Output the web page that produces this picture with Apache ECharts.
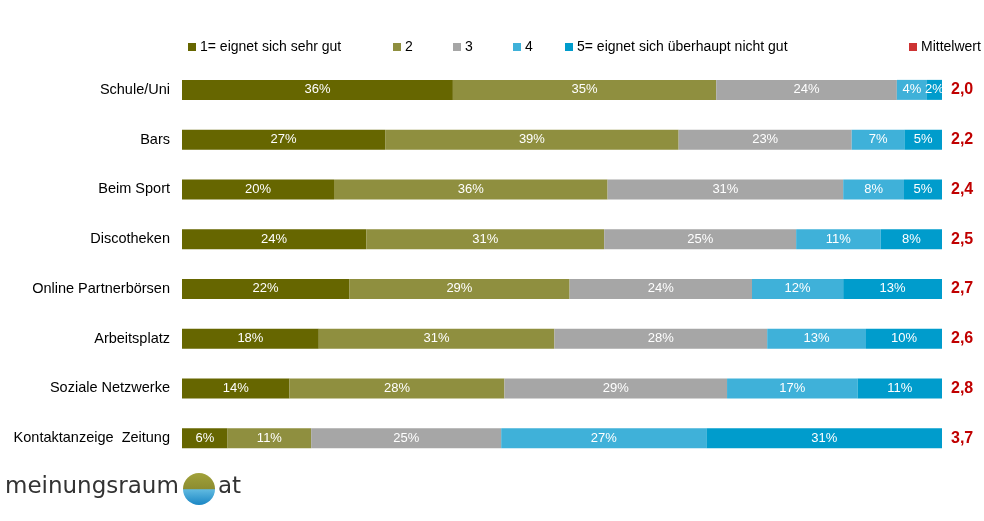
<!DOCTYPE html>
<html><head><meta charset="utf-8">
<script src="https://cdn.jsdelivr.net/npm/echarts@6/dist/echarts.min.js"></script>
<style>html,body{margin:0;padding:0;background:#fff}#c{width:984px;height:521px}</style>
</head><body><div id="c"></div>
<script>
const categories = ['Schule/Uni','Bars','Beim Sport','Discotheken','Online Partnerbörsen','Arbeitsplatz','Soziale Netzwerke','Kontaktanzeige  Zeitung'];
const s1 = [36,27,20,24,22,18,14,6];
const s2 = [35,39,36,31,29,31,28,11];
const s3 = [24,23,31,25,24,28,29,25];
const s4 = [4,7,8,11,12,13,17,27];
const s5 = [2,5,5,8,13,10,11,31];
const means = ['2,0','2,2','2,4','2,5','2,7','2,6','2,8','3,7'];
const seriesNames = ['1= eignet sich sehr gut','2','3','4','5= eignet sich überhaupt nicht gut'];
const colors = ['#666600','#8f8f3f','#a6a6a6','#3fb1d9','#009ccc'];

const all = [s1,s2,s3,s4,s5];
const totals = categories.map((c,i)=>all.reduce((a,s)=>a+s[i],0));
const font = 'Liberation Sans, Arial, sans-serif';

const series = all.map((s,k)=>({
  name: seriesNames[k], type:'bar', stack:'t', barWidth:20,
  itemStyle:{color:colors[k]},
  label:{show:true, position:'inside', color:'#fff', fontSize:13, fontFamily:font,
    formatter:p=>s[p.dataIndex]+'%'},
  data: s.map((v,i)=>v/totals[i]*100)
}));
series.push({name:'Mittelwert', type:'scatter', data:[], itemStyle:{color:'#c00000'}});

const legPos = [183,388,448,508,560,904];
const legNames = seriesNames.concat(['Mittelwert']);
const legends = legNames.map((n,i)=>({
  data:[n], left:legPos[i], top:35, itemWidth:8, itemHeight:8, itemGap:4,
  icon:'rect', textStyle:{fontSize:14, fontFamily:font, color:'#000', padding:[0,0,0,-1]},
  selectedMode:false
}));

const chart = echarts.init(document.getElementById('c'));
chart.setOption({
  animation:false,
  color: colors.concat(['#c00000']),
  legend: legends,
  grid:{left:182, right:42, top:65, bottom:58},
  xAxis:{type:'value', min:0, max:100, show:false},
  yAxis:[{type:'category', inverse:true, data:categories,
    axisLine:{show:false}, axisTick:{show:false},
    axisLabel:{fontSize:14.5, color:'#000', fontFamily:font, margin:12}},
   {type:'category', inverse:true, position:'right', data:means,
    axisLine:{show:false}, axisTick:{show:false},
    axisLabel:{fontSize:16, fontWeight:'bold', color:'#c00000', fontFamily:font, margin:9, align:'left'}}],
  series: series,
  graphic:[
    {type:'text', left:5, top:476, style:{text:'meinungsraum', fontSize:23, fontFamily:'DejaVu Sans, sans-serif', fontWeight:'normal', fill:'#333'}},
    {type:'circle', shape:{cx:199, cy:489, r:16}, style:{fill:new echarts.graphic.LinearGradient(0,0,0,1,[{offset:0,color:'#a2a23a'},{offset:0.5,color:'#8c8c30'},{offset:0.52,color:'#5fb9e0'},{offset:1,color:'#1a86c4'}])}},
    {type:'text', left:218, top:476, style:{text:'at', fontSize:23, fontFamily:'DejaVu Sans, sans-serif', fill:'#333'}}
  ]
});
</script></body></html>
